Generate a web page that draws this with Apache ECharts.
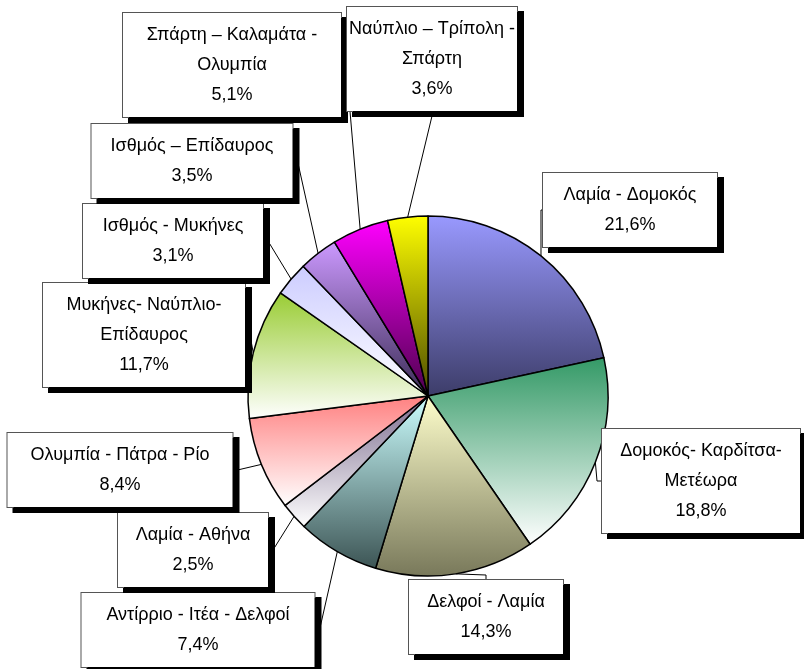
<!DOCTYPE html>
<html><head><meta charset="utf-8">
<script src="https://cdn.jsdelivr.net/npm/echarts@6/dist/echarts.min.js"></script>
<style>html,body{margin:0;padding:0;background:#fff}#chart{width:804px;height:669px}</style>
</head><body><div id="chart"></div>
<script>
// Data
const categories = [
  'Λαμία - Δομοκός',
  'Δομοκός- Καρδίτσα-\nΜετέωρα',
  'Δελφοί - Λαμία',
  'Αντίρριο - Ιτέα - Δελφοί',
  'Λαμία - Αθήνα',
  'Ολυμπία - Πάτρα - Ρίο',
  'Μυκήνες- Ναύπλιο-\nΕπίδαυρος',
  'Ισθμός - Μυκήνες',
  'Ισθμός – Επίδαυρος',
  'Σπάρτη – Καλαμάτα -\nΟλυμπία',
  'Ναύπλιο – Τρίπολη -\nΣπάρτη'
];
const values = [21.6, 18.8, 14.3, 7.4, 2.5, 8.4, 11.7, 3.1, 3.5, 5.1, 3.6];

// Styles
const topColors    = ['#9999ff', '#339966', '#ffffcc', '#ccffff', '#7a6a8c', '#ff8080', '#99cc33', '#ccccff', '#cc99ff', '#ff00ff', '#ffff00'];
const bottomColors = ['#3c3c68', '#ffffff', '#78785a', '#3c5454', '#ffffff', '#ffffff', '#ffffff', '#ffffff', '#3a2c55', '#4c004c', '#4c4c00'];
// label box layout: [centerX, centerY, boxWidth]
const labelBoxes = [
  [630, 210, 174],
  [701, 481, 198],
  [486, 617, 154],
  [198, 630, 233],
  [193, 550, 150],
  [120, 470, 225],
  [144, 335, 202],
  [173, 241, 180],
  [192, 161, 201],
  [232, 65, 218],
  [432, 59, 170]
];

const fmt = v => v.toFixed(1).replace('.', ',') + '%';

const data = categories.map((name, i) => ({
  name: name,
  value: values[i],
  itemStyle: {
    color: {
      type: 'linear', x: 0, y: 0, x2: 0, y2: 1,
      colorStops: [{offset: 0, color: topColors[i]}, {offset: 1, color: bottomColors[i]}]
    }
  },
  label: { width: labelBoxes[i][2] - 12 }
}));

const chart = echarts.init(document.getElementById('chart'), null, {renderer: 'canvas'});
chart.setOption({
  animation: false,
  backgroundColor: '#ffffff',
  series: [{
    type: 'pie',
    center: [428, 396],
    radius: 180,
    startAngle: 90,
    clockwise: true,
    avoidLabelOverlap: false,
    silent: true,
    data: data,
    itemStyle: { borderColor: '#000', borderWidth: 1.5 },
    label: {
      show: true,
      formatter: p => p.name + '\n' + fmt(p.value),
      fontFamily: 'Liberation Sans, Arial, sans-serif',
      fontSize: 18,
      lineHeight: 30,
      color: '#000',
      align: 'center',
      overflow: 'none',
      backgroundColor: '#fff',
      borderColor: '#555',
      borderWidth: 1,
      padding: [7, 6],
      shadowColor: '#000',
      shadowBlur: 0,
      shadowOffsetX: 6,
      shadowOffsetY: 5
    },
    labelLine: {
      show: true,
      length: 4,
      length2: 4,
      smooth: false,
      lineStyle: { color: '#000', width: 1 }
    },
    labelLayout: function (params) {
      const b = labelBoxes[params.dataIndex];
      return { x: b[0], y: b[1], align: 'center', verticalAlign: 'middle', hideOverlap: false, moveOverlap: null };
    }
  }]
});
</script>
</body></html>
